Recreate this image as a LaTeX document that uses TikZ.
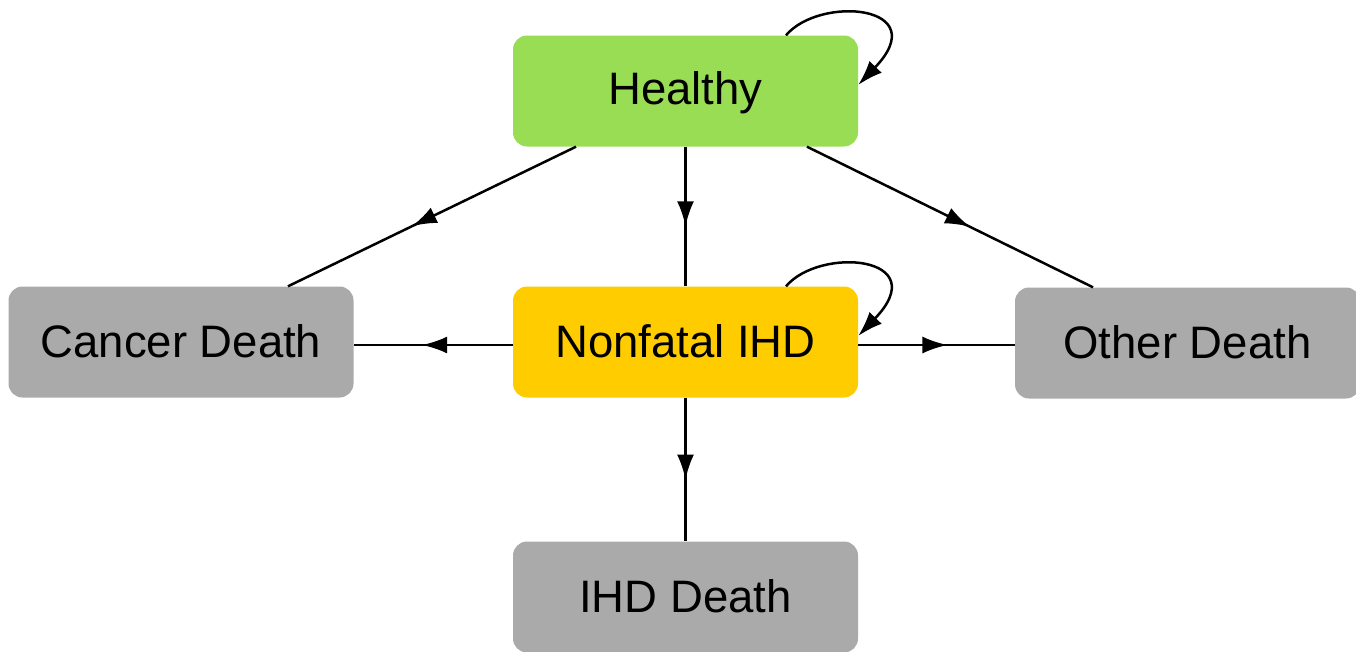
\documentclass[tikz,border=0pt]{standalone}
\usepackage{fontspec}
\setmainfont{Liberation Sans}
\usetikzlibrary{arrows.meta,decorations.markings}
\definecolor{hgreen}{HTML}{99DD55}
\definecolor{iyellow}{HTML}{FFCC00}
\definecolor{dgray}{HTML}{AAAAAA}
\tikzset{
  statebox/.style={rectangle, rounded corners=14pt, minimum width=345pt, minimum height=111pt, inner sep=0pt, text height=33pt, text depth=2pt, font=\fontsize{45.5}{54}\selectfont, text=black},
  edge/.style={line width=2.5pt, draw=black},
  midarrow/.style={edge, postaction={decorate}, decoration={markings, mark=at position 0.57 with {\arrow{Latex[length=25pt,width=17pt]}}}},
  loopedge/.style={edge, -{Latex[length=25pt,width=17pt]}}
}
\begin{document}
\begin{tikzpicture}[x=1pt,y=-1pt]
\useasboundingbox (0,0) rectangle (1356,651);
\node[statebox, fill=hgreen, text depth=6.5pt] (h) at (685.5,91) {Healthy};
\node[statebox, fill=iyellow] (n) at (685.5,342) {Nonfatal IHD};
\node[statebox, fill=dgray] (c) at (181,342) {Cancer Death};
\node[statebox, fill=dgray] (o) at (1187.5,343) {Other Death};
\node[statebox, fill=dgray] (d) at (685.5,597) {IHD Death};
\draw[midarrow] (h.south -| 576,0) -- (c.north -| 288,0);
\draw[midarrow] (h) -- (n);
\draw[midarrow] (h.south -| 807,0) -- (o.north -| 1093,0);
\draw[midarrow] (n.west |- 0,345) -- (c.east |- 0,345);
\draw[midarrow] (n.east |- 0,345) -- (o.west |- 0,345);
\draw[midarrow] (n) -- (d);
\draw[loopedge] (h.29) .. controls (820,-5) and (935,5) .. (h.2);
\draw[loopedge] (n.29) .. controls (820,246) and (935,256) .. (n.2);
\end{tikzpicture}
\end{document}
